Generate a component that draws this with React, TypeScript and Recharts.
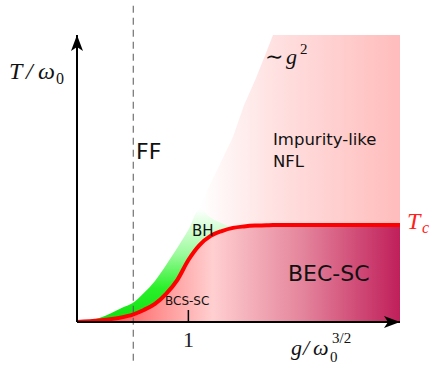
import React from "react";
import {
  ComposedChart,
  Area,
  Line,
  XAxis,
  YAxis,
  ReferenceLine,
  ReferenceDot,
} from "recharts";

// coupling g / omega0^{3/2}
const gValues = [0, 0.2, 0.4, 0.5, 0.6, 0.7, 0.8, 0.9, 1.0, 1.1, 1.2, 1.3, 1.4, 1.5, 1.6, 1.7, 1.76, 1.8, 2.0, 2.4, 2.9];
// superconducting Tc line
const tcValues = [0, 0.005, 0.016, 0.026, 0.042, 0.063, 0.098, 0.146, 0.216, 0.268, 0.3, 0.317, 0.328, 0.333, 0.336, 0.337, 0.338, 0.338, 0.338, 0.338, 0.338];
// ~ g^2 crossover (edge of the impurity-like NFL region), capped at the top of the plot
const crossoverValues = [0, 0.014, 0.049, 0.066, 0.101, 0.143, 0.199, 0.258, 0.321, 0.4, 0.484, 0.564, 0.645, 0.756, 0.843, 0.941, 1, 1, 1, 1, 1];
// top of the bipolaronic (BH) green band
const bhTopValues = [0, 0.014, 0.049, 0.066, 0.101, 0.143, 0.199, 0.258, 0.321, 0.395, 0.364, 0.344, 0.328, null, null, null, null, null, null, null, null];

const xTicks = [1];
const ffBoundary = 0.505;

const data = gValues.map((g, i) => ({
  g,
  tc: tcValues[i],
  edge: crossoverValues[i],
  bh: bhTopValues[i],
}));

const serif = "'Liberation Serif', 'DejaVu Serif', serif";
const sans = "'DejaVu Sans', sans-serif";

const TickOne = (props: any) => {
  const { x, y, payload } = props;
  return (
    <g>
      <line x1={x} x2={x} y1={y - 12} y2={y} stroke="#000" strokeWidth={1.5} />
      <text x={x} y={y + 25} textAnchor="middle" fontFamily={serif} fontSize={22} fill="#222">
        {payload.value}
      </text>
    </g>
  );
};

const Annotations = () => (
  <g>
    <text fontFamily={serif} fontStyle="italic" fontSize={24} fill="#111">
      <tspan x={9} y={79}>T</tspan>
      <tspan x={26} y={79}>/</tspan>
      <tspan x={38} y={79}>ω</tspan>
      <tspan x={56} y={84} fontStyle="normal" fontSize={16}>0</tspan>
    </text>
    <text x={136} y={159} fontFamily={sans} fontSize={22} fill="#111">FF</text>
    <text fontFamily={serif} fontSize={22} fill="#111">
      <tspan x={265} y={64}>∼</tspan>
      <tspan x={286} y={64} fontStyle="italic">g</tspan>
      <tspan x={300} y={54} fontSize={15}>2</tspan>
    </text>
    <text fontFamily={sans} fontSize={16.5} fill="#111">
      <tspan x={273} y={145}>Impurity-like</tspan>
      <tspan x={273} y={167}>NFL</tspan>
    </text>
    <text x={192} y={236} fontFamily={sans} fontSize={15} fill="#111">BH</text>
    <text x={165} y={305} fontFamily={sans} fontSize={12} fill="#111">BCS-SC</text>
    <text x={288} y={281} fontFamily={sans} fontSize={22} fill="#111">BEC-SC</text>
    <text fontFamily={serif} fontStyle="italic" fontSize={24} fill="#ff2020">
      <tspan x={407} y={229}>T</tspan>
      <tspan x={422} y={233} fontSize={16}>c</tspan>
    </text>
    <text fontFamily={serif} fontStyle="italic" fontSize={22} fill="#111">
      <tspan x={291} y={355}>g</tspan>
      <tspan x={303} y={355}>/</tspan>
      <tspan x={313} y={355}>ω</tspan>
      <tspan x={330} y={362} fontStyle="normal" fontSize={15}>0</tspan>
      <tspan x={332} y={343} fontStyle="normal" fontSize={15}>3/2</tspan>
    </text>
  </g>
);

export default function App() {
  return (
    <div style={{ position: "absolute", left: 0, top: 0, background: "#fff" }}>
      <ComposedChart
        width={431}
        height={371}
        data={data}
        margin={{ top: 35, right: 31, bottom: 19, left: 17 }}
      >
        <defs>
          <marker
            id="arrowHead"
            markerUnits="userSpaceOnUse"
            markerWidth={18}
            markerHeight={14}
            refX={16}
            refY={6}
            orient="auto-start-reverse"
          >
            <path d="M0,0 L16,6 L0,12 L4,6 z" fill="#000" />
          </marker>
          <linearGradient id="pinkGrad" x1="0" y1="0" x2="1" y2="0">
            <stop offset="0" stopColor="#ffffff" />
            <stop offset="0.38" stopColor="#ffffff" />
            <stop offset="0.6" stopColor="#ffe2e2" />
            <stop offset="1" stopColor="#ffbcbc" />
          </linearGradient>
          <linearGradient id="becGrad" x1="0" y1="0" x2="1" y2="0">
            <stop offset="0" stopColor="#ff2424" />
            <stop offset="0.25" stopColor="#ff9090" />
            <stop offset="0.42" stopColor="#ffcfd0" />
            <stop offset="0.7" stopColor="#e4849c" />
            <stop offset="1" stopColor="#c01f5a" />
          </linearGradient>
          <linearGradient id="greenGrad" x1="0" y1="0" x2="0" y2="1">
            <stop offset="0" stopColor="#ffffff" />
            <stop offset="0.4" stopColor="#9cfb9c" />
            <stop offset="0.7" stopColor="#2af02a" />
            <stop offset="1" stopColor="#10e010" />
          </linearGradient>
        </defs>
        <Area
          dataKey="edge"
          type="linear"
          stroke="none"
          fill="url(#pinkGrad)"
          fillOpacity={1}
          isAnimationActive={false}
        />
        <Area
          dataKey="tc"
          type="monotone"
          stroke="none"
          fill="url(#becGrad)"
          fillOpacity={1}
          isAnimationActive={false}
        />
        <Area
          dataKey={(d: any) => (d.bh == null ? null : [d.tc, d.bh])}
          type="monotone"
          stroke="none"
          fill="url(#greenGrad)"
          fillOpacity={1}
          isAnimationActive={false}
        />
        <Line
          dataKey="tc"
          type="monotone"
          stroke="#ff0000"
          strokeWidth={4}
          dot={false}
          isAnimationActive={false}
        />
        <XAxis
          dataKey="g"
          type="number"
          domain={[0, 2.9]}
          allowDataOverflow
          height={30}
          ticks={xTicks}
          tick={<TickOne />}
          tickLine={false}
          tickSize={0}
          tickMargin={0}
          axisLine={{ stroke: "#000", strokeWidth: 2, markerEnd: "url(#arrowHead)" }}
        />
        <YAxis
          type="number"
          domain={[0, 1]}
          allowDataOverflow
          width={60}
          tick={false}
          tickLine={false}
          axisLine={{ stroke: "#000", strokeWidth: 2, markerStart: "url(#arrowHead)" }}
        />
        <ReferenceLine
          segment={[
            { x: ffBoundary, y: -0.135 },
            { x: ffBoundary, y: 1.11 },
          ]}
          ifOverflow="visible"
          stroke="#555"
          strokeWidth={1}
          strokeDasharray="7 5"
        />
        <ReferenceDot x={0} y={0} r={0} ifOverflow="visible" shape={() => <Annotations />} />
      </ComposedChart>
    </div>
  );
}
